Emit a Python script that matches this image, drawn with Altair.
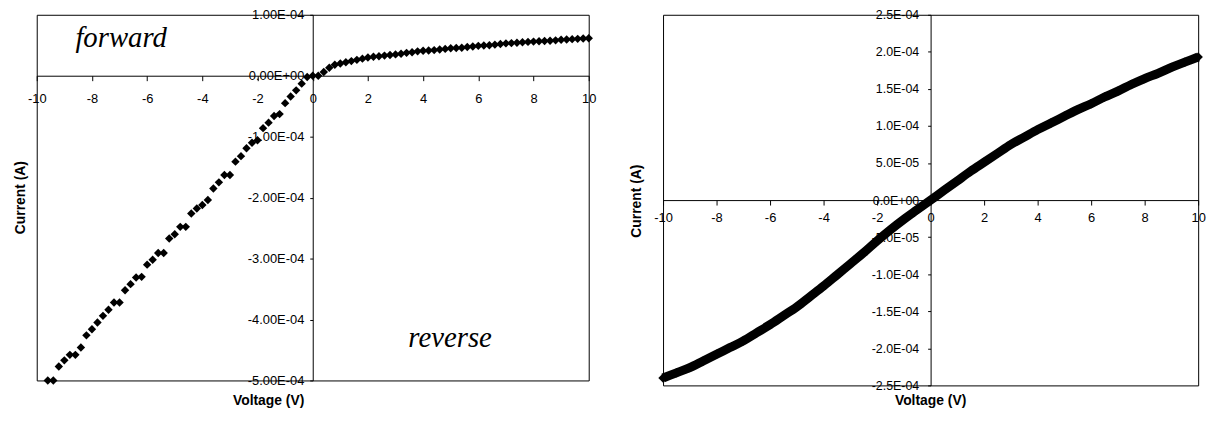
import altair as alt
import pandas as pd

FONT = "Liberation Sans"

# ---------------- Left panel data (forward / reverse sweep) ----------------
left_voltage = [
    -9.6, -9.4, -9.2, -9.0, -8.8, -8.6, -8.4, -8.2, -8.0, -7.8,
    -7.6, -7.4, -7.2, -7.0, -6.8, -6.6, -6.4, -6.2, -6.0, -5.8,
    -5.6, -5.4, -5.2, -5.0, -4.8, -4.6, -4.4, -4.2, -4.0, -3.8,
    -3.6, -3.4, -3.2, -3.0, -2.8, -2.6, -2.4, -2.2, -2.0, -1.8,
    -1.6, -1.4, -1.2, -1.0, -0.8, -0.6, -0.4, -0.2, 0.0,
    0.2, 0.4, 0.6, 0.8, 1.0, 1.2, 1.4, 1.6, 1.8, 2.0,
    2.2, 2.4, 2.6, 2.8, 3.0, 3.2, 3.4, 3.6, 3.8, 4.0,
    4.2, 4.4, 4.6, 4.8, 5.0, 5.2, 5.4, 5.6, 5.8, 6.0,
    6.2, 6.4, 6.6, 6.8, 7.0, 7.2, 7.4, 7.6, 7.8, 8.0,
    8.2, 8.4, 8.6, 8.8, 9.0, 9.2, 9.4, 9.6, 9.8, 10.0,
]
# current in units of 1e-4 A
left_current_e4 = [
    -5.00, -5.00, -4.77, -4.67, -4.58, -4.58, -4.46, -4.26, -4.16, -4.05,
    -3.94, -3.84, -3.72, -3.72, -3.52, -3.42, -3.31, -3.30, -3.10, -3.02,
    -2.91, -2.91, -2.67, -2.60, -2.48, -2.48, -2.26, -2.18, -2.12, -2.04,
    -1.85, -1.75, -1.63, -1.63, -1.41, -1.32, -1.19, -1.10, -1.06, -0.86,
    -0.77, -0.66, -0.63, -0.45, -0.34, -0.24, -0.13, -0.02, 0.00,
    0.00, 0.06, 0.13, 0.18, 0.20, 0.22, 0.24, 0.26, 0.28, 0.30,
    0.31, 0.32, 0.33, 0.34, 0.35, 0.36, 0.375, 0.385, 0.40, 0.41,
    0.415, 0.42, 0.43, 0.44, 0.45, 0.455, 0.46, 0.47, 0.48, 0.49,
    0.495, 0.50, 0.51, 0.52, 0.53, 0.535, 0.54, 0.55, 0.555, 0.56,
    0.565, 0.57, 0.575, 0.58, 0.59, 0.595, 0.60, 0.605, 0.61, 0.615,
]

# ---------------- Right panel data ----------------
right_voltage = [
    -10.0, -9.5, -9.0, -8.5, -8.0, -7.5, -7.0, -6.5, -6.0, -5.5,
    -5.0, -4.5, -4.0, -3.5, -3.0, -2.5, -2.0, -1.5, -1.0, -0.5,
    0.0, 0.5, 1.0, 1.5, 2.0, 2.5, 3.0, 3.5, 4.0, 4.5,
    5.0, 5.5, 6.0, 6.5, 7.0, 7.5, 8.0, 8.5, 9.0, 9.5, 10.0,
]
right_current_e4 = [
    -2.40, -2.33, -2.26, -2.17, -2.08, -1.99, -1.90, -1.79, -1.68, -1.56,
    -1.44, -1.30, -1.16, -1.01, -0.86, -0.71, -0.55, -0.40, -0.26, -0.13,
    0.00, 0.13, 0.26, 0.39, 0.51, 0.63, 0.75, 0.85, 0.95, 1.04,
    1.13, 1.22, 1.30, 1.39, 1.47, 1.56, 1.64, 1.71, 1.79, 1.86, 1.93,
]

# ---------------- Tick labels ----------------
x_tick_values = [-10, -8, -6, -4, -2, 0, 2, 4, 6, 8, 10]
x_tick_labels = ["-10", "-8", "-6", "-4", "-2", "0", "2", "4", "6", "8", "10"]

left_y_tick_values = [1e-4, 0.0, -1e-4, -2e-4, -3e-4, -4e-4, -5e-4]
left_y_tick_labels = ["1.00E-04", "0.00E+00", "-1.00E-04", "-2.00E-04",
                      "-3.00E-04", "-4.00E-04", "-5.00E-04"]

right_y_tick_values = [2.5e-4, 2.0e-4, 1.5e-4, 1.0e-4, 5e-5, 0.0,
                       -5e-5, -1.0e-4, -1.5e-4, -2.0e-4, -2.5e-4]
right_y_tick_labels = ["2.5E-04", "2.0E-04", "1.5E-04", "1.0E-04", "5.0E-05",
                       "0.0E+00", "-5.0E-05", "-1.0E-04", "-1.5E-04",
                       "-2.0E-04", "-2.5E-04"]

annotations = ["forward", "reverse"]
x_title = "Voltage (V)"
y_title = "Current (A)"


def label_expr(labels, top, step):
    arr = "[" + ",".join("'" + s + "'" for s in labels) + "]"
    return f"{arr}[round(({top} - datum.value) / {step})]"


x_label_expr = label_expr(x_tick_labels[::-1], 10, 2)

LW, LH = 557, 369
RW, RH = 540, 374

common_axis = dict(grid=False, title=None, labelFont=FONT, labelColor="black",
                   domainColor="black", tickColor="black", labelFlush=False,
                   labelOverlap=False, zindex=0, domainWidth=1, tickWidth=1)

left_df = pd.DataFrame({"V": left_voltage,
                        "I": [c * 1e-4 for c in left_current_e4]})
right_df = pd.DataFrame({"V": right_voltage,
                         "I": [c * 1e-4 for c in right_current_e4]})


def title_layers(xpos, ypos):
    tdf = pd.DataFrame({"t": [x_title]})
    ydf = pd.DataFrame({"t": [y_title]})
    xt = alt.Chart(tdf).mark_text(font=FONT, fontSize=14, fontWeight="bold",
                                  color="black", align="center",
                                  baseline="middle").encode(
        text="t:N", x=alt.value(xpos[0]), y=alt.value(xpos[1]))
    yt = alt.Chart(ydf).mark_text(font=FONT, fontSize=14, fontWeight="bold",
                                  color="black", align="center",
                                  baseline="middle", angle=270).encode(
        text="t:N", x=alt.value(ypos[0]), y=alt.value(ypos[1]))
    return xt, yt


# ---------------- Left chart ----------------
lx = alt.X("V:Q", scale=alt.Scale(domain=[-10, 10], nice=False, zero=False),
           axis=alt.Axis(values=x_tick_values, labelExpr=x_label_expr,
                         orient="bottom", offset=-(LH - LH / 6.0),
                         tickSize=5, labelPadding=12, labelFontSize=13,
                         **common_axis))
ly = alt.Y("I:Q", scale=alt.Scale(domain=[-5e-4, 1e-4], nice=False, zero=False),
           axis=alt.Axis(values=left_y_tick_values,
                         labelExpr=label_expr(left_y_tick_labels, 1e-4, 1e-4),
                         orient="left", offset=-(LW / 2.0),
                         tickSize=3, labelPadding=6, labelFontSize=13,
                         **common_axis))

left_points = alt.Chart(left_df).mark_point(
    shape="diamond", filled=True, size=72, color="black", opacity=1
).encode(x=lx, y=ly)

ann_df1 = pd.DataFrame({"t": [annotations[0]]})
ann_df2 = pd.DataFrame({"t": [annotations[1]]})
fwd = alt.Chart(ann_df1).mark_text(font="Liberation Serif", fontSize=29,
                                   fontStyle="italic", color="black",
                                   align="left", baseline="alphabetic").encode(
    text="t:N", x=alt.value(39), y=alt.value(33))
rev = alt.Chart(ann_df2).mark_text(font="Liberation Serif", fontSize=29,
                                   fontStyle="italic", color="black",
                                   align="left", baseline="alphabetic").encode(
    text="t:N", x=alt.value(375), y=alt.value(335))

lxt, lyt = title_layers((234, 390), (-16, LH / 2.0))
left = alt.layer(left_points, fwd, rev, lxt, lyt).properties(width=LW, height=LH)

# ---------------- Right chart ----------------
rx = alt.X("V:Q", scale=alt.Scale(domain=[-10, 10], nice=False, zero=False),
           axis=alt.Axis(values=x_tick_values, labelExpr=x_label_expr,
                         orient="bottom", offset=-(RH / 2.0),
                         tickSize=5, labelPadding=7, labelFontSize=13,
                         **common_axis))
ry = alt.Y("I:Q", scale=alt.Scale(domain=[-2.5e-4, 2.5e-4], nice=False, zero=False),
           axis=alt.Axis(values=right_y_tick_values,
                         labelExpr=label_expr(right_y_tick_labels, 2.5e-4, 5e-5),
                         orient="left", offset=-(RW / 2.0),
                         tickSize=3, labelPadding=9, labelFontSize=12.5,
                         **common_axis))

right_line = alt.Chart(right_df).mark_line(
    color="black", strokeWidth=9, interpolate="monotone"
).encode(x=rx, y=ry)
right_points = alt.Chart(right_df).mark_point(
    shape="diamond", filled=True, size=90, color="black", opacity=1
).encode(x=rx, y=ry)

rxt, ryt = title_layers((RW / 2.0, 390), (-26, RH / 2.0 + 1))
right = alt.layer(right_line, right_points, rxt, ryt).properties(width=RW, height=RH)

chart = alt.hconcat(left, right, spacing=75, bounds="flush").properties(
    padding={"left": 5, "top": -2, "right": 0, "bottom": 0}
).configure_view(stroke="black", strokeWidth=1)

chart.save("out.html", embed_options={"renderer": "svg", "actions": False})
